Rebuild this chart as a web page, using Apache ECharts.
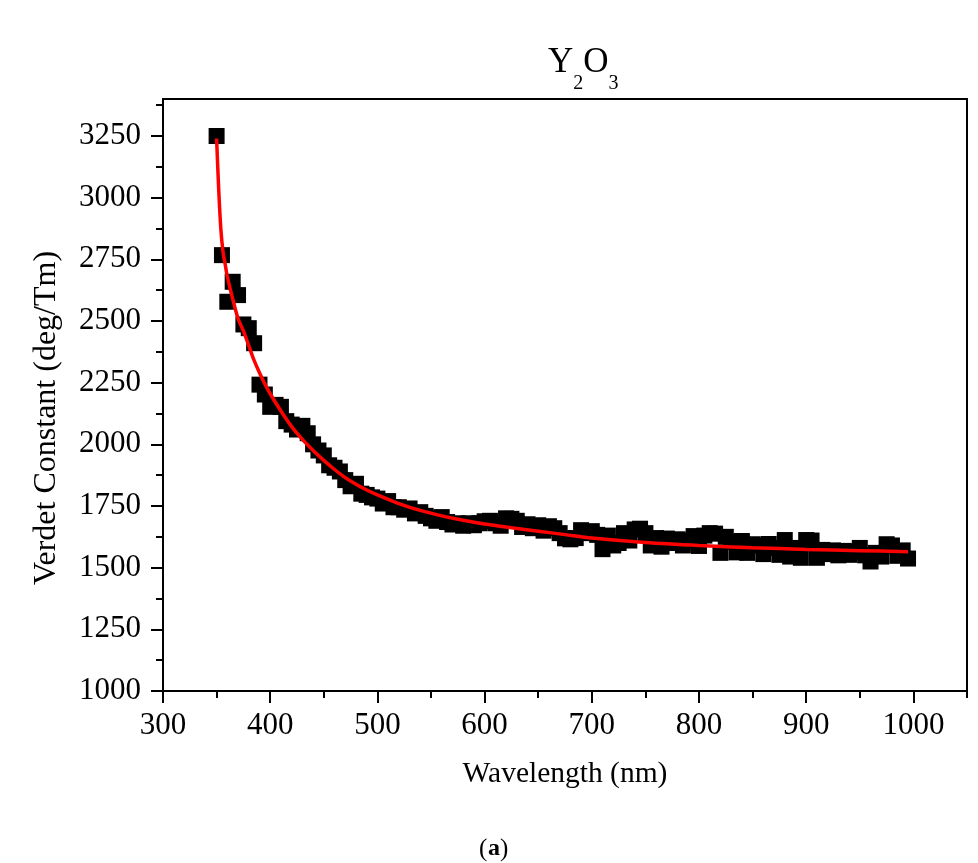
<!DOCTYPE html>
<html>
<head>
<meta charset="utf-8">
<script src="https://cdn.jsdelivr.net/npm/echarts@6/dist/echarts.min.js"></script>
<style>
html,body{margin:0;padding:0;background:#ffffff;}
#c{width:978px;height:863px;}
</style>
</head>
<body>
<div id="c"></div>
<script>
// Measured data (Verdet constant of Y2O3 vs wavelength)
const wavelength = [
  350,355,360,365,370,375,380,385,390,395,
  400,405,410,415,420,425,430,435,440,445,
  450,455,460,465,470,475,480,485,490,495,
  500,505,510,515,520,525,530,535,540,545,
  550,555,560,565,570,575,580,585,590,595,
  600,605,610,615,620,625,630,635,640,645,
  650,655,660,665,670,675,680,685,690,695,
  700,705,710,715,720,725,730,735,740,745,
  750,755,760,765,770,775,780,785,790,795,
  800,805,810,815,820,825,830,835,840,845,
  850,855,860,865,870,875,880,885,890,895,
  900,905,910,915,920,925,930,935,940,945,
  950,955,960,965,970,975,980,985,990,995
];
const verdet = [
  3250,2767,2578,2659,2605,2486,2471,2410,2242,2202,
  2152,2160,2152,2094,2080,2060,2075,2045,2000,1975,
  1955,1915,1905,1890,1855,1830,1840,1800,1795,1785,
  1780,1760,1770,1745,1745,1735,1740,1720,1725,1710,
  1700,1690,1705,1685,1675,1680,1670,1680,1672,1680,
  1688,1690,1680,1670,1700,1698,1690,1665,1676,1660,
  1672,1650,1668,1660,1640,1619,1615,1620,1652,1640,
  1648,1633,1575,1630,1590,1600,1640,1610,1655,1658,
  1640,1590,1620,1585,1618,1600,1615,1590,1610,1628,
  1588,1630,1640,1638,1560,1625,1605,1562,1608,1560,
  1595,1590,1555,1596,1580,1552,1612,1545,1580,1540,
  1612,1610,1540,1572,1555,1570,1550,1568,1552,1565,
  1580,1550,1525,1560,1545,1595,1590,1548,1570,1537
];
// Fitted curve
const fitWavelength = [350,352,354,356,358,360,365,370,375,380,385,390,395,400,410,420,430,440,450,460,470,480,490,500,520,540,560,580,600,625,650,675,700,750,800,850,900,950,995];
const fitVerdet     = [3240,3030,2870,2780,2730,2680,2590,2510,2460,2400,2340,2290,2245,2205,2135,2072,2020,1975,1935,1898,1865,1838,1815,1795,1760,1732,1710,1692,1677,1662,1648,1634,1620,1602,1590,1581,1574,1569,1565];

const xMajorTicks = [300,400,500,600,700,800,900,1000];
const xMinorTicks = [350,450,550,650,750,850,950,1050];
const yMajorTicks = [1000,1250,1500,1750,2000,2250,2500,2750,3000,3250];
const yMinorTicks = [1125,1375,1625,1875,2125,2375,2625,2875,3125,3375];

const FONT = "'Liberation Serif','Times New Roman',serif";
const scatterData = wavelength.map((w,i)=>[w, verdet[i]]);
const fitData = fitWavelength.map((w,i)=>[w, fitVerdet[i]]);
const plain = v => String(v);

const chart = echarts.init(document.getElementById('c'), null, {renderer:'canvas'});
const axisLineStyle = {color:'#000', width:2};
chart.setOption({
  backgroundColor:'#ffffff',
  animation:false,
  title:{
    text:'{a|Y}{b|2}{a|O}{b|3}',
    left:543, top:40,
    textStyle:{
      rich:{
        a:{fontFamily:FONT, fontSize:35, fontWeight:'normal', color:'#000', lineHeight:40, verticalAlign:'top'},
        b:{fontFamily:FONT, fontSize:20, fontWeight:'normal', color:'#000', lineHeight:20, padding:[29,0,0,0], verticalAlign:'top'}
      }
    }
  },
  grid:{left:163, right:11, top:99, bottom:172, show:true, borderColor:'#000', borderWidth:2, backgroundColor:'transparent', containLabel:false},
  xAxis:[
    {
      type:'value', min:300, max:1050, position:'bottom',
      name:'Wavelength (nm)', nameLocation:'middle', nameGap:68,
      nameTextStyle:{fontFamily:FONT, fontSize:29.5, color:'#000'},
      axisLine:{show:true, lineStyle:axisLineStyle},
      axisTick:{show:true, inside:false, length:12, lineStyle:axisLineStyle, customValues:xMajorTicks},
      axisLabel:{show:true, customValues:xMajorTicks, formatter:plain, fontFamily:FONT, fontSize:31, color:'#000', margin:19},
      splitLine:{show:false}
    },
    {
      type:'value', min:300, max:1050, position:'bottom',
      axisLine:{show:false},
      axisTick:{show:true, inside:false, length:7, lineStyle:axisLineStyle, customValues:xMinorTicks},
      axisLabel:{show:false},
      splitLine:{show:false}
    }
  ],
  yAxis:[
    {
      type:'value', min:1000, max:3400, position:'left',
      axisLine:{show:true, lineStyle:axisLineStyle},
      axisTick:{show:true, inside:false, length:12, lineStyle:axisLineStyle, customValues:yMajorTicks},
      axisLabel:{show:true, customValues:yMajorTicks, formatter:plain, fontFamily:FONT, fontSize:31, color:'#000', margin:22},
      splitLine:{show:false}
    },
    {
      type:'value', min:1000, max:3400, position:'left',
      axisLine:{show:false},
      axisTick:{show:true, inside:false, length:7, lineStyle:axisLineStyle, customValues:yMinorTicks},
      axisLabel:{show:false},
      splitLine:{show:false}
    }
  ],
  series:[
    {
      type:'scatter', xAxisIndex:0, yAxisIndex:0,
      data:scatterData, symbol:'rect', symbolSize:16,
      itemStyle:{color:'#000', opacity:1}, z:2
    },
    {
      type:'line', xAxisIndex:0, yAxisIndex:0,
      data:fitData, showSymbol:false, smooth:0.3,
      lineStyle:{color:'#ff0000', width:3.5}, z:3
    }
  ],
  graphic:[
    {
      type:'text', x:47, y:418, rotation:Math.PI/2,
      style:{
        text:'Verdet Constant (deg/Tm)',
        fontFamily:FONT, fontSize:32, fill:'#000',
        align:'center', verticalAlign:'middle'
      }
    },
    {
      type:'text', x:479, y:849,
      style:{
        text:'(', fontFamily:FONT, fontSize:25, fill:'#000',
        align:'left', verticalAlign:'middle'
      }
    },
    {
      type:'text', x:488, y:849,
      style:{
        text:'a', fontFamily:FONT, fontSize:24, fontWeight:'bold', fill:'#000',
        align:'left', verticalAlign:'middle'
      }
    },
    {
      type:'text', x:500, y:849,
      style:{
        text:')', fontFamily:FONT, fontSize:25, fill:'#000',
        align:'left', verticalAlign:'middle'
      }
    }
  ]
});
</script>
</body>
</html>
